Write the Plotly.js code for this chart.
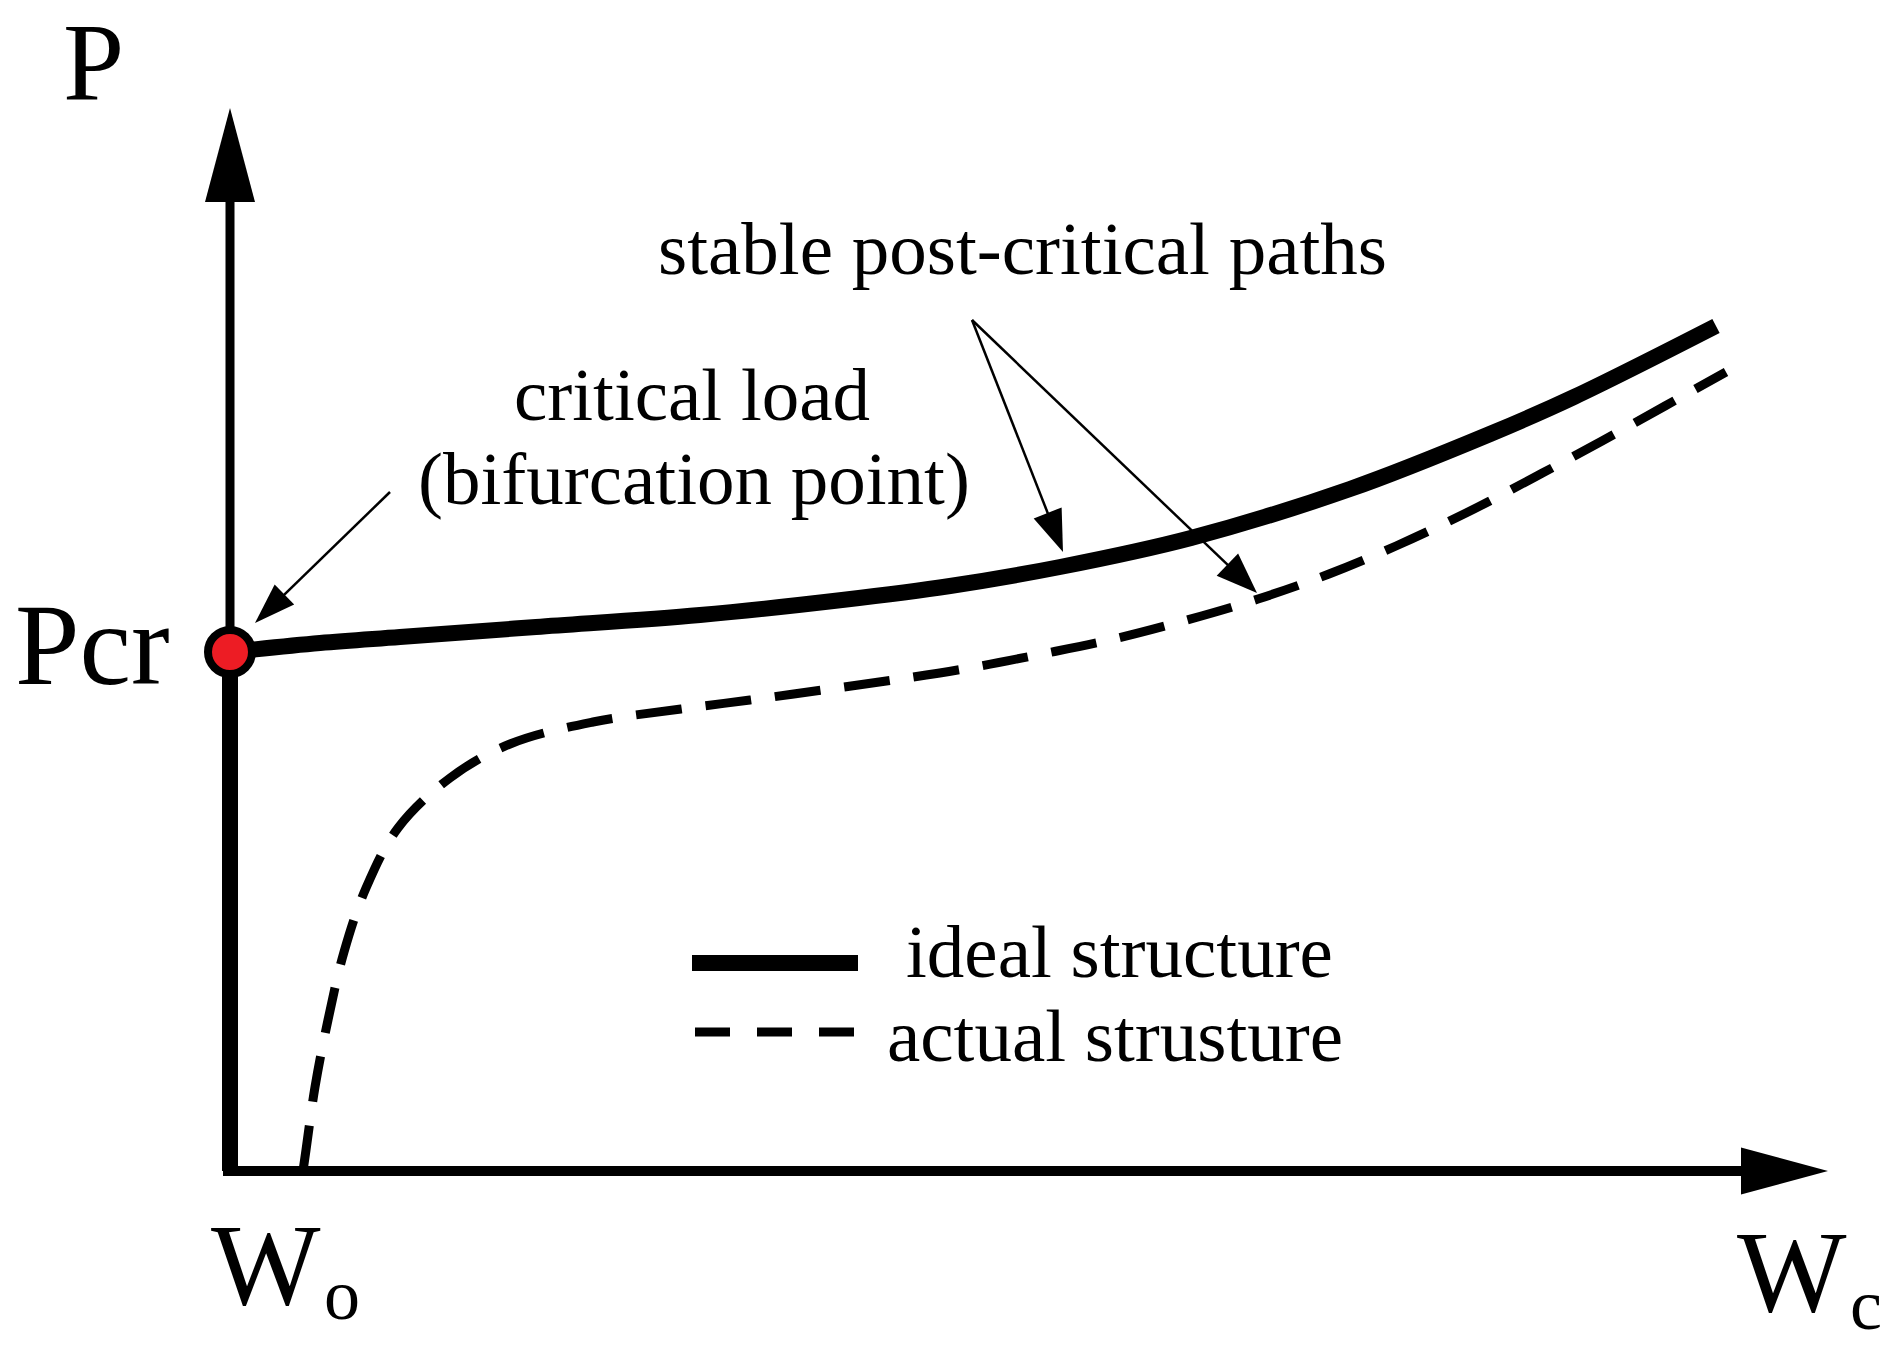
<!DOCTYPE html>
<html><head><meta charset="utf-8">
<script src="https://cdn.plot.ly/plotly-3.0.1.min.js"></script>
<style>html,body{margin:0;padding:0;background:#fff;overflow:hidden}#chart{width:1899px;height:1356px}</style>
</head><body><div id="chart"></div>
<script>
// ---- data (drawing units: W = deflection, P = load; origin at the axes corner) ----
const idealRiseW = [0, 0];
const idealRiseP = [0, 519];
const idealW = [0, 90, 170, 306, 470, 612, 720, 830, 961, 1120, 1260, 1344, 1486];
const idealP = [519, 528, 534, 544, 556, 571, 585, 604, 633, 682, 737, 774, 845];
const actualW = [73, 76, 85, 98, 114, 136, 168, 220, 280, 363, 451, 520, 592, 663, 739, 812, 884, 957, 1028, 1099, 1166, 1236, 1305, 1372, 1435, 1496];
const actualP = [0, 21, 84, 151, 219, 283, 343, 393, 427, 449, 462, 471, 481, 491, 503, 517, 532, 551, 572, 597, 625, 658, 694, 730, 765, 799];
const bifurcationW = [0];
const bifurcationP = [519];

// ---- texts ----
const yAxisLabel = "P";
const pcrLabel = "Pcr";
const w0Main = "W", w0Sub = "o";
const wcMain = "W", wcSub = "c";
const noteCritical1 = "critical load";
const noteCritical2 = "(bifurcation point)";
const noteStable = "stable post-critical paths";
const legendNames = ["ideal structure", "actual strusture"];

// ---- page geometry ----
const WIDTH = 1899, HEIGHT = 1356, OX = 230, OY = 1171;
const X = px => px - OX;
const Y = py => OY - py;
const FONT = "Liberation Serif";

function txt(s, xpx, basePx, fs, anchor) {
  return {
    x: X(xpx), y: Y(basePx - 0.3375 * fs), xref: 'x', yref: 'y',
    text: s, showarrow: false, xanchor: anchor || 'center', yanchor: 'middle',
    font: {family: FONT, size: fs, color: '#000'}
  };
}

function tri(tx, ty, bx, by, wid) {
  const dx = tx - bx, dy = ty - by, L = Math.hypot(dx, dy);
  const nx = -dy / L * wid / 2, ny = dx / L * wid / 2;
  return {type: 'path', xref: 'x', yref: 'y', layer: 'above',
    path: `M${tx},${ty} L${bx + nx},${by + ny} L${bx - nx},${by - ny} Z`,
    fillcolor: '#000', line: {width: 0}};
}

function arrow(x0, y0, x1, y1, len, wid, lw) {
  const dx = x1 - x0, dy = y1 - y0, L = Math.hypot(dx, dy), ux = dx / L, uy = dy / L;
  const bx = x1 - ux * len, by = y1 - uy * len;
  return [
    {type: 'line', xref: 'x', yref: 'y', layer: 'above', x0: x0, y0: y0, x1: bx + ux * 3, y1: by + uy * 3,
      line: {color: '#000', width: lw}},
    tri(x1, y1, bx, by, wid)
  ];
}

const shapes = [];
// axes
shapes.push({type: 'line', xref: 'x', yref: 'y', layer: 'below', x0: 0, y0: Y(1176), x1: 0, y1: Y(198), line: {color: '#000', width: 9}});
shapes.push(tri(0, Y(108), 0, Y(202), 50));
shapes.push({type: 'line', xref: 'x', yref: 'y', layer: 'below', x0: X(223), y0: 0, x1: X(1745), y1: 0, line: {color: '#000', width: 10}});
shapes.push(tri(X(1828), 0, X(1741), 0, 47));
// annotation arrows
shapes.push(...arrow(X(390), Y(492), X(255), Y(623), 41, 28, 2.5));
shapes.push(...arrow(X(972), Y(320), X(1063), Y(552), 42, 30, 2.5));
shapes.push(...arrow(X(972), Y(320), X(1257), Y(593), 41, 31, 2.5));
// legend keys
shapes.push({type: 'line', xref: 'x', yref: 'y', layer: 'above', x0: X(692), y0: Y(963), x1: X(858), y1: Y(963), line: {color: '#000', width: 16}});
shapes.push({type: 'line', xref: 'x', yref: 'y', layer: 'above', x0: X(695), y0: Y(1032), x1: X(857), y1: Y(1032), line: {color: '#000', width: 9, dash: '35px,27px'}});

const annotations = [
  txt(yAxisLabel, 93, 99, 110),
  txt(pcrLabel, 92, 684, 116),
  txt(w0Main, 266, 1304, 116),
  txt(w0Sub, 342, 1319, 72),
  txt(wcMain, 1792, 1311, 116),
  txt(wcSub, 1866, 1329, 72),
  txt(noteCritical1, 692, 420, 75),
  txt(noteCritical2, 694, 504, 75),
  txt(noteStable, 1022, 274, 75),
  txt(legendNames[0], 904, 977, 75, 'left'),
  txt(legendNames[1], 885, 1061, 75, 'left')
];

const traces = [
  {x: idealRiseW, y: idealRiseP, mode: 'lines', line: {color: '#000', width: 16}, name: legendNames[0], hoverinfo: 'skip'},
  {x: idealW, y: idealP, mode: 'lines', line: {color: '#000', width: 16, shape: 'spline', smoothing: 1}, name: legendNames[0], hoverinfo: 'skip'},
  {x: actualW, y: actualP, mode: 'lines', line: {color: '#000', width: 9, shape: 'spline', smoothing: 1, dash: '46px,24px'}, name: legendNames[1], hoverinfo: 'skip'},
  {x: bifurcationW, y: bifurcationP, mode: 'markers', marker: {size: 44, color: '#ED1C24', line: {color: '#000', width: 8}}, name: 'bifurcation', hoverinfo: 'skip'}
];

const layout = {
  width: WIDTH, height: HEIGHT,
  margin: {l: 0, r: 0, t: 0, b: 0, pad: 0},
  paper_bgcolor: '#fff', plot_bgcolor: '#fff',
  showlegend: false,
  xaxis: {range: [-OX, WIDTH - OX], visible: false, fixedrange: true},
  yaxis: {range: [-(HEIGHT - OY), OY], visible: false, fixedrange: true},
  shapes: shapes,
  annotations: annotations
};

Plotly.newPlot('chart', traces, layout, {staticPlot: true, displayModeBar: false});
</script>
</body></html>
